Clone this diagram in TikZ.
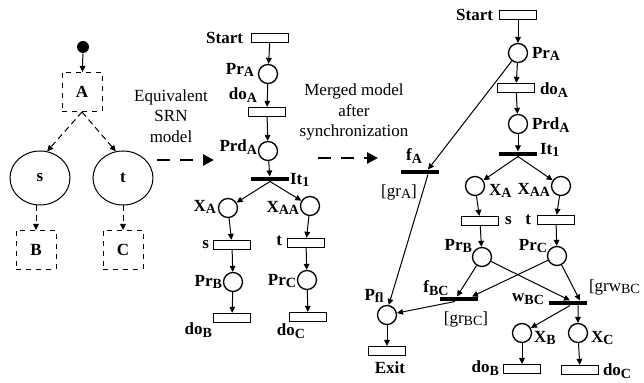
\documentclass[tikz,border=0pt]{standalone}
\usepackage{fontspec}
\setmainfont{Liberation Serif}
\usetikzlibrary{arrows.meta,shapes.geometric}
\newcommand{\srnSub}[1]{\raisebox{-0.35ex}{\fontsize{8.4}{9}\selectfont #1}}
\begin{document}
\begin{tikzpicture}
% SRN picture, coordinates taken in pixels (y grows downwards)
\def\pxsz{0.6pt}
\providecommand{\srnFont}{\fontsize{10.2}{12.2}\selectfont}
\providecommand{\srnLineWidth}{0.8pt}
\providecommand{\srnArcWidth}{0.6pt}
\tikzset{
  place/.style={circle, draw, line width=\srnLineWidth, minimum size=11.4pt, inner sep=0pt},
  trans/.style={rectangle, draw, line width=\srnLineWidth, minimum width=22.2pt, minimum height=5.4pt, inner sep=0pt},
  bar/.style={rectangle, fill=black, minimum width=22.8pt, minimum height=2.6pt, inner sep=0pt},
  lbl/.style={font=\srnFont\bfseries, inner sep=1pt},
  guard/.style={font=\srnFont, inner sep=1pt},
  arc/.style={-{Triangle[length=3.6pt,width=3.4pt]}, line width=\srnArcWidth},
  dashbox/.style={rectangle, draw, dashed, line width=0.6pt, minimum width=24pt, minimum height=23.4pt, inner sep=0pt, font=\srnFont\bfseries},
  statebox/.style={ellipse, draw, line width=0.6pt, minimum width=36pt, minimum height=32.4pt, inner sep=0pt, font=\srnFont\bfseries},
  seqarc/.style={-{Triangle[length=3.6pt,width=3.4pt]}, line width=0.6pt, dash pattern=on 3.6pt off 2.4pt},
  convarc/.style={-{Triangle[length=6.6pt,width=6.6pt]}, line width=1.5pt, dash pattern=on 7.8pt off 6pt},
  note/.style={font=\srnFont, align=center, inner sep=0pt}
}
\begin{scope}[x=\pxsz, y=-\pxsz]
  \useasboundingbox (0,0) rectangle (644,383);
  % Activity model
  \node[circle, fill=black, minimum size=7.2pt, inner sep=0pt] (init) at (83,47) {};
  \node[dashbox] (A) at (82,92) {A};
  \node[statebox] (s) at (40,178) {s};
  \node[statebox] (t) at (123,178) {t};
  \node[dashbox] (B) at (36,250) {B};
  \node[dashbox] (C) at (123,250) {C};
  \draw[arc] (init) -- (A);
  \draw[seqarc] (A.south) -- (s.75);
  \draw[seqarc] (A.south) -- (t.105);
  \draw[seqarc] (s.south -| B.north) -- (B.north);
  \draw[seqarc] (t) -- (C);
  % First conversion
  \node[note] (eqTxt) at (171,116) {Equivalent\\SRN\\model};
  \coordinate (eqFrom) at (157,160);
  \coordinate (eqTo) at (214,160);
  \draw[convarc] (eqFrom) -- (eqTo);
  % Equivalent SRN model
  \node[trans] (mStart) at (270,38) {};
  \node[place] (mPrA) at (268,74) {};
  \node[trans] (mDoA) at (267,112) {};
  \node[place] (mPrdA) at (268,151) {};
  \node[bar] (mIt) at (270,179) {};
  \node[place] (mXA) at (228,208) {};
  \node[place] (mXAA) at (310,206) {};
  \node[trans] (mS) at (232,245) {};
  \node[trans] (mT) at (306,243) {};
  \node[place] (mPrB) at (233,282) {};
  \node[place] (mPrC) at (307,280) {};
  \node[trans] (mDoB) at (232,318) {};
  \node[trans] (mDoC) at (308,317) {};
  \node[lbl, anchor=east] (mStartL) at (245,38) {Start};
  \node[lbl, anchor=east] (mPrAL) at (256,70) {Pr\srnSub{A}};
  \node[lbl, anchor=east] (mDoAL) at (259,95) {do\srnSub{A}};
  \node[lbl, anchor=east] (mPrdAL) at (259,147) {Prd\srnSub{A}};
  \node[lbl, anchor=west] (mItL) at (288,180) {It\srnSub{1}};
  \node[lbl, anchor=east] (mXAL) at (218,207) {X\srnSub{A}};
  \node[lbl, anchor=east] (mXAAL) at (301,208) {X\srnSub{AA}};
  \node[lbl, anchor=east] (mSL) at (211,245) {s};
  \node[lbl, anchor=east] (mTL) at (284,241) {t};
  \node[lbl, anchor=east] (mPrBL) at (224,282) {Pr\srnSub{B}};
  \node[lbl, anchor=east] (mPrCL) at (298,281) {Pr\srnSub{C}};
  \node[lbl, anchor=east] (mDoBL) at (214,330) {do\srnSub{B}};
  \node[lbl, anchor=east] (mDoCL) at (307,331) {do\srnSub{C}};
  \draw[arc] (mStart) -- (mPrA);
  \draw[arc] (mPrA) -- (mDoA);
  \draw[arc] (mDoA) -- (mPrdA);
  \draw[arc] (mPrdA) -- (mIt);
  \draw[arc] (mIt.south) -- (mXA);
  \draw[arc] (mIt.south) -- (mXAA);
  \draw[arc] (mXA) -- (mS);
  \draw[arc] (mXAA) -- (mT);
  \draw[arc] (mS) -- (mPrB);
  \draw[arc] (mT) -- (mPrC);
  \draw[arc] (mPrB) -- (mDoB);
  \draw[arc] (mPrC) -- (mDoC);
  % Second conversion
  \node[note] (mrgTxt) at (354,112) {Merged model\\after\\synchronization};
  \coordinate (mrgFrom) at (318,158);
  \coordinate (mrgTo) at (378,158);
  \draw[convarc] (mrgFrom) -- (mrgTo);
  % Merged model
  \node[trans] (rStart) at (518,15) {};
  \node[place] (rPrA) at (518,53) {};
  \node[trans] (rDoA) at (516,88) {};
  \node[place] (rPrdA) at (518,124) {};
  \node[bar] (rIt) at (518,154) {};
  \node[place] (rXA) at (475,186) {};
  \node[place] (rXAA) at (561,186) {};
  \node[trans] (rS) at (480,221) {};
  \node[trans] (rT) at (556,220) {};
  \node[place] (rPrB) at (482,257) {};
  \node[place] (rPrC) at (557,256) {};
  \node[bar] (rFA) at (420,172) {};
  \node[place] (rPfl) at (387,315) {};
  \node[trans] (rExit) at (387,351) {};
  \node[bar] (rFBC) at (459,299) {};
  \node[bar] (rWBC) at (568,303) {};
  \node[place] (rXB) at (522,333) {};
  \node[place] (rXC) at (578,333) {};
  \node[trans] (rDoB) at (522,369) {};
  \node[trans] (rDoC) at (580,370) {};
  \node[lbl, anchor=east] (rStartL) at (495,15) {Start};
  \node[lbl, anchor=west] (rPrAL) at (530,54) {Pr\srnSub{A}};
  \node[lbl, anchor=west] (rDoAL) at (538,90) {do\srnSub{A}};
  \node[lbl, anchor=west] (rPrdAL) at (530,125) {Prd\srnSub{A}};
  \node[lbl, anchor=west] (rItL) at (538,150) {It\srnSub{1}};
  \node[lbl, anchor=west] (rXAL) at (487,191) {X\srnSub{A}};
  \node[lbl, anchor=east] (rXAAL) at (552,190) {X\srnSub{AA}};
  \node[lbl, anchor=west] (rSL) at (503,221) {s};
  \node[lbl, anchor=east] (rTL) at (533,220) {t};
  \node[lbl, anchor=east] (rPrBL) at (474,246) {Pr\srnSub{B}};
  \node[lbl, anchor=east] (rPrCL) at (549,246) {Pr\srnSub{C}};
  \node[lbl] (rFAL) at (414,156) {f\srnSub{A}};
  \node[guard] (rGrAL) at (399,192) {[gr\srnSub{A}]};
  \node[lbl] (rPflL) at (374,296) {P\srnSub{fl}};
  \node[lbl] (rExitL) at (390,368) {Exit};
  \node[lbl] (rFBCL) at (436,288) {f\srnSub{BC}};
  \node[guard] (rGrBCL) at (466,319) {[gr\srnSub{BC}]};
  \node[lbl] (rWBCL) at (528,299) {w\srnSub{BC}};
  \node[guard, anchor=west] (rGrwBCL) at (587,287) {[grw\srnSub{BC}};
  \node[lbl, anchor=west] (rXBL) at (532,338) {X\srnSub{B}};
  \node[lbl, anchor=west] (rXCL) at (589,338) {X\srnSub{C}};
  \node[lbl, anchor=east] (rDoBL) at (501,368) {do\srnSub{B}};
  \node[lbl, anchor=west] (rDoCL) at (601,371) {do\srnSub{C}};
  \draw[arc] (rStart) -- (rPrA);
  \draw[arc] (rPrA) -- (rDoA);
  \draw[arc] (rDoA) -- (rPrdA);
  \draw[arc] (rPrdA) -- (rIt);
  \draw[arc] (rIt.south) -- (rXA);
  \draw[arc] (rIt.south) -- (rXAA);
  \draw[arc] (rXA) -- (rS);
  \draw[arc] (rXAA) -- (rT);
  \draw[arc] (rS) -- (rPrB);
  \draw[arc] (rT) -- (rPrC);
  \draw[arc] (rPrA) -- ([xshift=4.8pt]rFA.north);
  \draw[arc] ([xshift=4.8pt]rFA.south) -- (rPfl.80);
  \draw[arc] (rPfl) -- (rExit);
  \draw[arc] (rPrB) -- ([xshift=-1.2pt]rFBC.north);
  \draw[arc] (rPrC) -- ([xshift=7.8pt]rFBC.north);
  \draw[arc] (rPrB) -- ([xshift=1.2pt]rWBC.north);
  \draw[arc] (rPrC) -- ([xshift=7.2pt]rWBC.north);
  \draw[arc] ([xshift=-2.4pt]rFBC.south) -- (rPfl);
  \draw[arc] ([xshift=1.2pt]rWBC.south) -- (rXB);
  \draw[arc] ([xshift=6pt]rWBC.south) -- (rXC);
  \draw[arc] (rXB) -- (rDoB);
  \draw[arc] (rXC) -- (rDoC);
\end{scope}
\end{tikzpicture}
\end{document}
